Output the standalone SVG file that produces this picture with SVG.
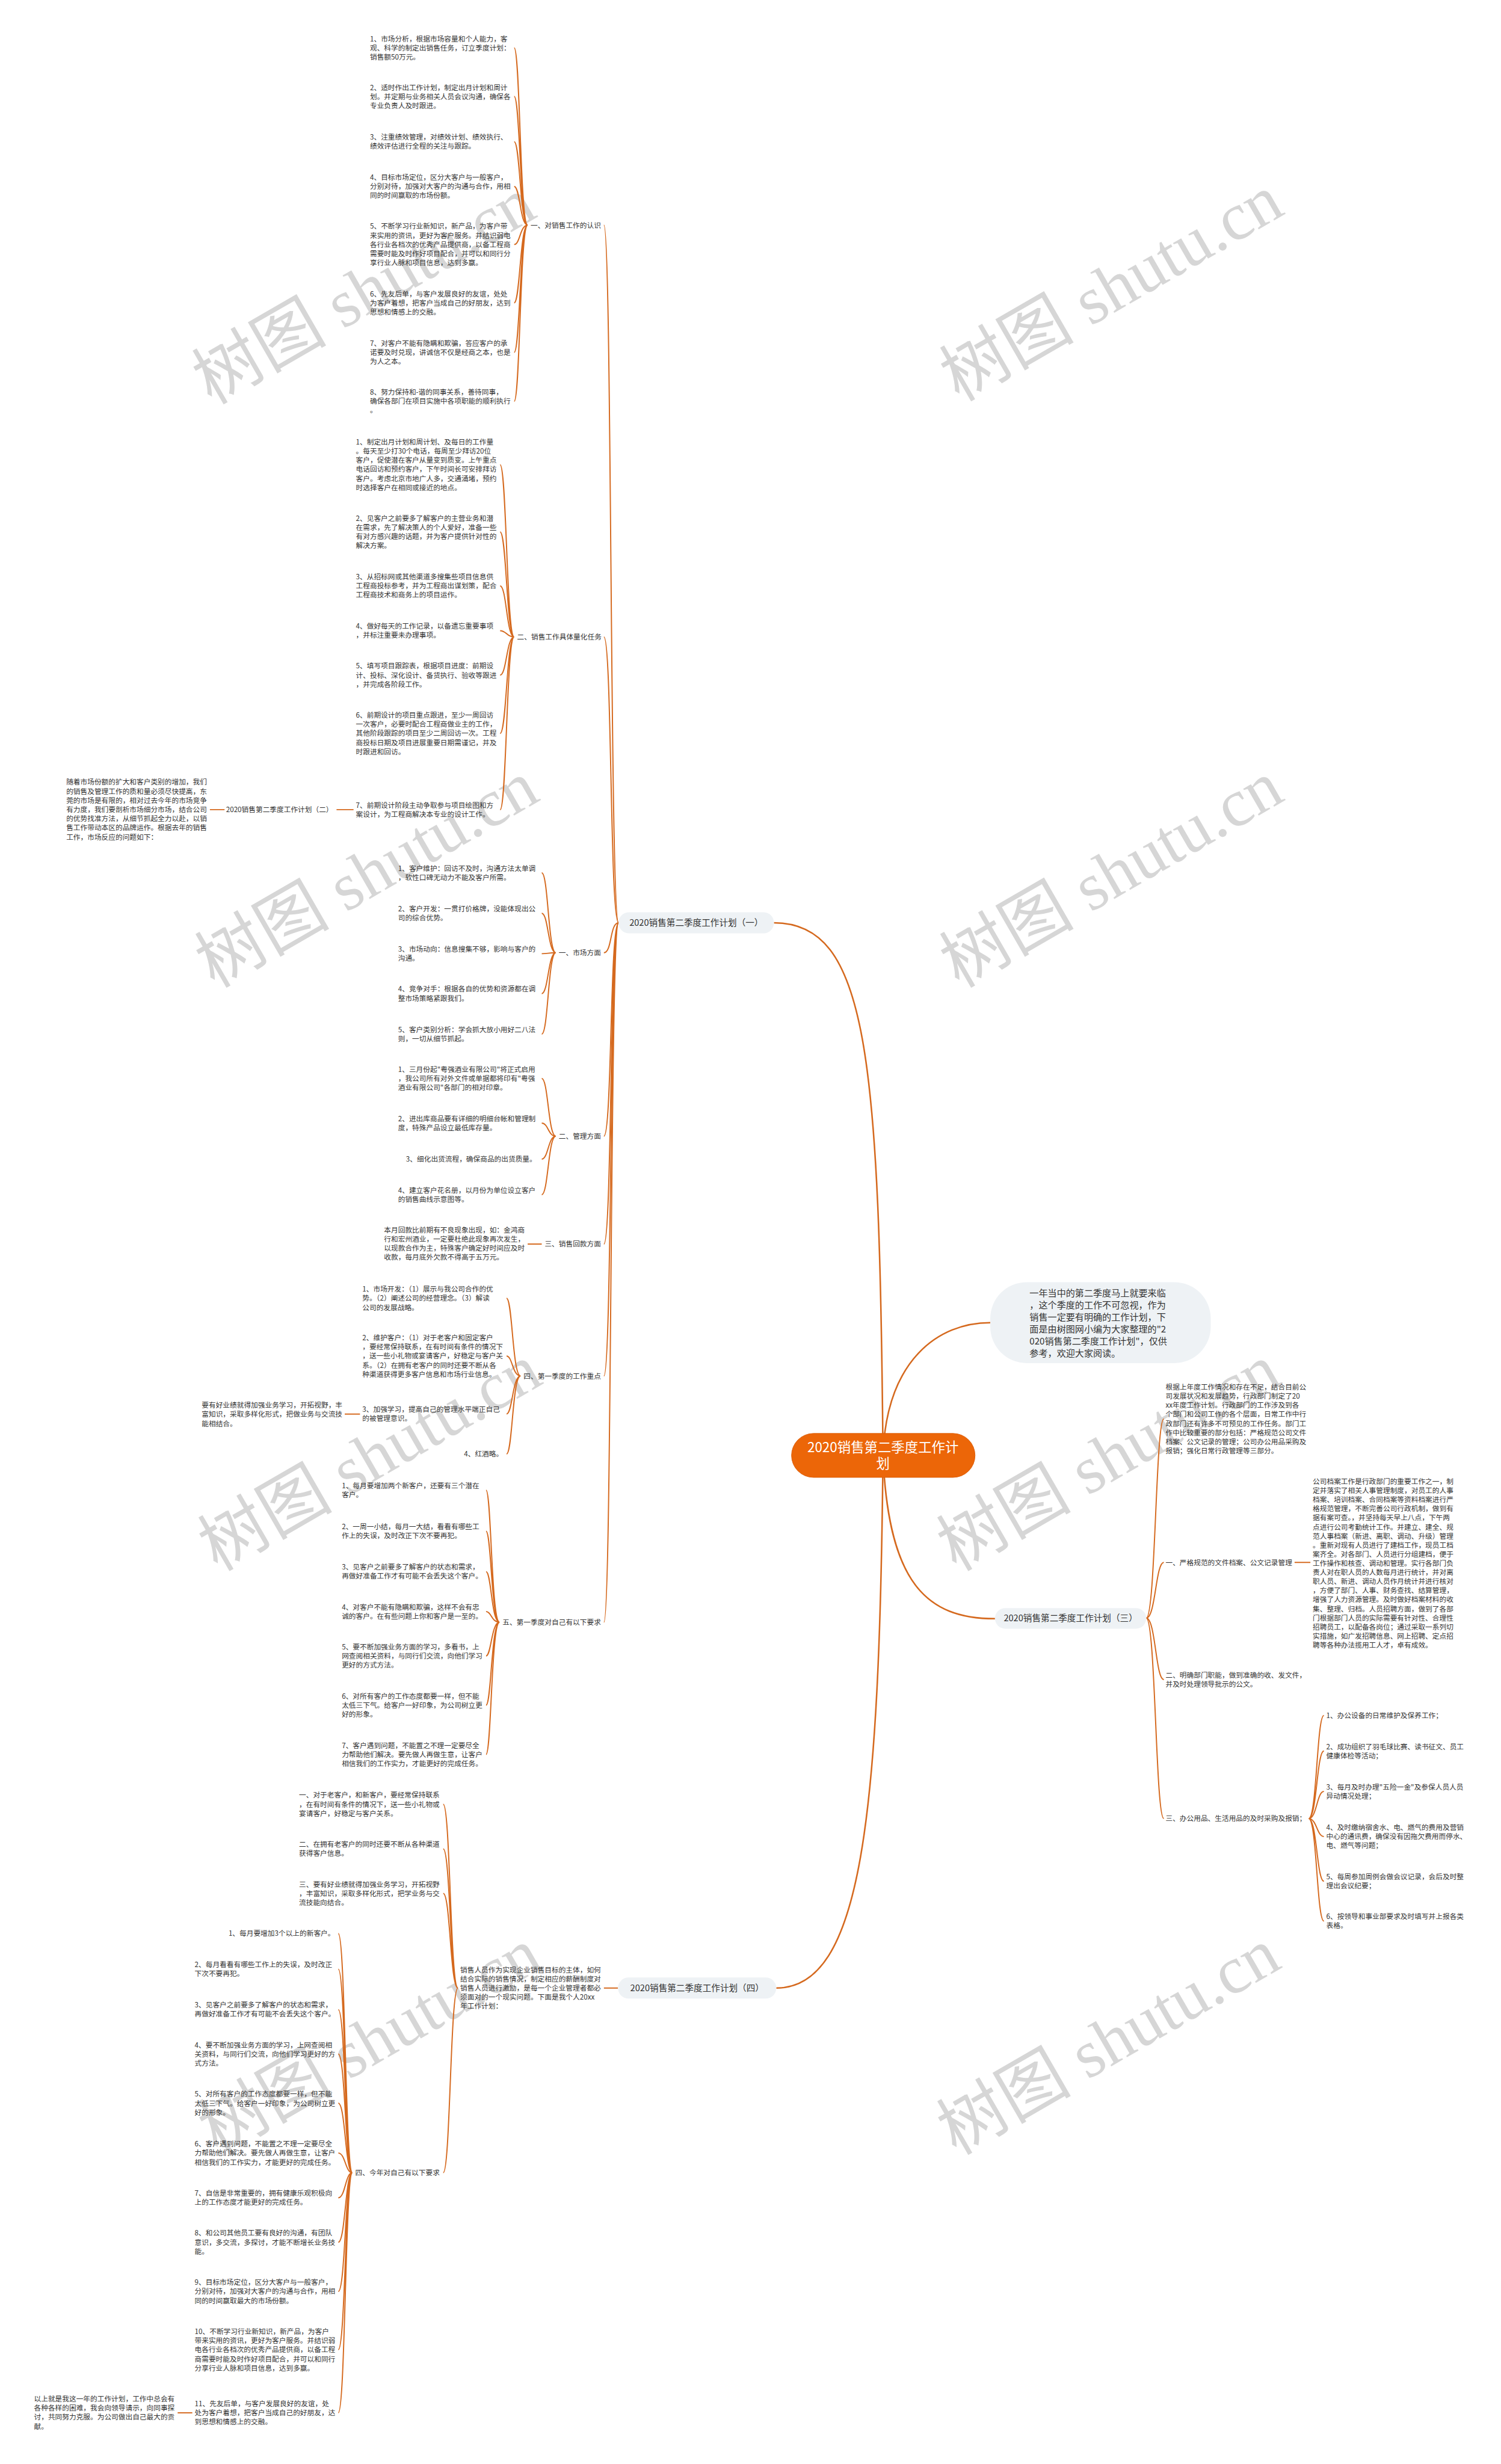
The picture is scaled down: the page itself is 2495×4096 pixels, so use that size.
<svg xmlns="http://www.w3.org/2000/svg" width="2495" height="4096" viewBox="0 0 2495 4096">
<style>
text{font-family:"Noto Sans CJK SC","Liberation Sans",sans-serif;font-size:12px;fill:#333}
.n{font-size:15px;text-anchor:middle}
.e{text-anchor:end}
.c{stroke:#d5691e;stroke-width:2;fill:none}
.m{stroke-width:2.6}
.pill{fill:#eef2f5}
.wm{font-family:"Liberation Serif","Noto Sans CJK SC",serif;font-size:115px;fill:#d6d6d6;text-anchor:middle}
</style>
<rect width="2495" height="4096" fill="#fff"/>
<g transform="scale(0.97458)">
<g id="watermark">
<text class="wm" transform="translate(640,530) rotate(-30)">树图 shutu.cn</text>
<text class="wm" transform="translate(1915,525) rotate(-30)">树图 shutu.cn</text>
<text class="wm" transform="translate(645,1525) rotate(-30)">树图 shutu.cn</text>
<text class="wm" transform="translate(1915,1525) rotate(-30)">树图 shutu.cn</text>
<text class="wm" transform="translate(650,2520) rotate(-30)">树图 shutu.cn</text>
<text class="wm" transform="translate(1910,2520) rotate(-30)">树图 shutu.cn</text>
<text class="wm" transform="translate(650,3516) rotate(-30)">树图 shutu.cn</text>
<text class="wm" transform="translate(1910,3516) rotate(-30)">树图 shutu.cn</text>
</g>
<g id="connectors">
<path class="c m" d="M1506 2482 C1500 1800 1480 1574 1320 1574"/>
<path class="c m" d="M1506 2482 C1500 3100 1470 3391 1324 3391"/>
<path class="c m" d="M1506 2482 C1512 2320 1600 2256 1689 2256"/>
<path class="c m" d="M1506 2482 C1515 2700 1580 2761 1697 2761"/>
<path class="c" d="M1055 1574 C1040 1574 1044 384 1030 384"/>
<path class="c" d="M1055 1574 C1040 1574 1044 1086.5 1030 1086.5"/>
<path class="c" d="M1055 1574 C1040 1574 1044 1625 1030 1625"/>
<path class="c" d="M1055 1574 C1040 1574 1044 1938 1030 1938"/>
<path class="c" d="M1055 1574 C1040 1574 1044 2122 1030 2122"/>
<path class="c" d="M1055 1574 C1040 1574 1044 2347 1030 2347"/>
<path class="c" d="M1055 1574 C1040 1574 1044 2767 1030 2767"/>
<path class="c" d="M900 384 C887 384 887 81.5 877 81.5 M900 384 C887 384 887 164.5 877 164.5 M900 384 C887 384 887 241.75 877 241.75 M900 384 C887 384 887 318 877 318 M900 384 C887 384 887 417 877 417 M900 384 C887 384 887 516.5 877 516.5 M900 384 C887 384 887 601 877 601 M900 384 C887 384 887 684.5 877 684.5"/>
<path class="c" d="M877 1086.5 C864 1086.5 864 792.75 853 792.75 M877 1086.5 C864 1086.5 864 907.25 853 907.25 M877 1086.5 C864 1086.5 864 999.5 853 999.5 M877 1086.5 C864 1086.5 864 1075.75 853 1075.75 M877 1086.5 C864 1086.5 864 1151.5 853 1151.5 M877 1086.5 C864 1086.5 864 1251 853 1251 M877 1086.5 C864 1086.5 864 1381.25 853 1381.25"/>
<path class="c" d="M603 1381 L574 1381 M383 1381 L358 1381"/>
<path class="c" d="M948 1625 C935 1625 935 1488.75 924 1488.75 M948 1625 C935 1625 935 1557.75 924 1557.75 M948 1625 C935 1625 935 1626.75 924 1626.75 M948 1625 C935 1625 935 1694.75 924 1694.75 M948 1625 C935 1625 935 1763.75 924 1763.75"/>
<path class="c" d="M948 1938 C935 1938 935 1839.5 924 1839.5 M948 1938 C935 1938 935 1915.75 924 1915.75 M948 1938 C935 1938 935 1977 924 1977 M948 1938 C935 1938 935 2037.75 924 2037.75"/>
<path class="c" d="M924 2122 L900 2122"/>
<path class="c" d="M888 2347 C874 2347 874 2214.5 864 2214.5 M888 2347 C874 2347 874 2313 864 2313 M888 2347 C874 2347 874 2411.75 864 2411.75 M888 2347 C874 2347 874 2480 864 2480"/>
<path class="c" d="M614 2412 L588 2412"/>
<path class="c" d="M852 2767 C838 2767 838 2541.75 829 2541.75 M852 2767 C838 2767 838 2611.75 829 2611.75 M852 2767 C838 2767 838 2680.75 829 2680.75 M852 2767 C838 2767 838 2748.75 829 2748.75 M852 2767 C838 2767 838 2824.5 829 2824.5 M852 2767 C838 2767 838 2908.5 829 2908.5 M852 2767 C838 2767 838 2992.5 829 2992.5"/>
<path class="c" d="M1955 2760 C1971 2760 1971 2420.25 1985 2420.25 M1955 2760 C1971 2760 1971 2665 1985 2665 M1955 2760 C1971 2760 1971 2864.75 1985 2864.75 M1955 2760 C1971 2760 1971 3102 1985 3102"/>
<path class="c" d="M2208 2665 L2235 2665"/>
<path class="c" d="M2232 3102 C2246 3102 2246 2926 2258 2926 M2232 3102 C2246 3102 2246 2986.75 2258 2986.75 M2232 3102 C2246 3102 2246 3055.75 2258 3055.75 M2232 3102 C2246 3102 2246 3132.5 2258 3132.5 M2232 3102 C2246 3102 2246 3208.75 2258 3208.75 M2232 3102 C2246 3102 2246 3276.75 2258 3276.75"/>
<path class="c" d="M1054 3391 L1030 3391"/>
<path class="c" d="M781 3391 C768 3391 768 3077.5 756 3077.5 M781 3391 C768 3391 768 3153.75 756 3153.75 M781 3391 C768 3391 768 3229.5 756 3229.5 M781 3391 C768 3391 768 3706 756 3706"/>
<path class="c" d="M601 3706 C589 3706 589 3298 577 3298 M601 3706 C589 3706 589 3358.75 577 3358.75 M601 3706 C589 3706 589 3427.75 577 3427.75 M601 3706 C589 3706 589 3503.5 577 3503.5 M601 3706 C589 3706 589 3587.5 577 3587.5 M601 3706 C589 3706 589 3672.5 577 3672.5 M601 3706 C589 3706 589 3748.75 577 3748.75 M601 3706 C589 3706 589 3824.5 577 3824.5 M601 3706 C589 3706 589 3908.5 577 3908.5 M601 3706 C589 3706 589 4008 577 4008 M601 3706 C589 3706 589 4115.5 577 4115.5"/>
<path class="c" d="M328 4115.5 L303 4115.5"/>
</g>
<g id="center">
<rect x="1350" y="2445" width="313" height="75" rx="37.5" fill="#ec6608" stroke="#dc5e08"/>
<text x="1506" y="2477" style="font-size:23px;fill:#fff;text-anchor:middle"><tspan x="1506">2020销售第二季度工作计</tspan><tspan x="1506" dy="28">划</tspan></text>
</g>
<g id="intro">
<rect class="pill" x="1689" y="2187" width="376" height="138" rx="62"/>
<text x="1756" y="2210.7" style="font-size:15.5px"><tspan x="1756">一年当中的第二季度马上就要来临</tspan><tspan x="1756" dy="20.7">，这个季度的工作不可忽视，作为</tspan><tspan x="1756" dy="20.7">销售一定要有明确的工作计划，下</tspan><tspan x="1756" dy="20.7">面是由树图网小编为大家整理的"2</tspan><tspan x="1756" dy="20.7">020销售第二季度工作计划"，仅供</tspan><tspan x="1756" dy="20.7">参考，欢迎大家阅读。</tspan></text>
</g>
<g id="plan1">
<rect class="pill" x="1055" y="1556" width="265" height="36" rx="18"/>
<text class="n" x="1187.5" y="1579.5">2020销售第二季度工作计划（一）</text>
</g>
<g id="plan3">
<rect class="pill" x="1697" y="2743" width="258" height="35" rx="17.5"/>
<text class="n" x="1826" y="2765.5">2020销售第二季度工作计划（三）</text>
</g>
<g id="plan4">
<rect class="pill" x="1054" y="3373" width="270" height="36" rx="18"/>
<text class="n" x="1189" y="3396.5">2020销售第二季度工作计划（四）</text>
</g>
<g id="sec1">
<text x="905" y="388.4">一、对销售工作的认识</text>
<text x="631" y="70.4"><tspan x="631">1、市场分析，根据市场容量和个人能力，客</tspan><tspan x="631" dy="15.5">观、科学的制定出销售任务，订立季度计划：</tspan><tspan x="631" dy="15.5">销售额50万元。</tspan></text>
<text x="631" y="153.4"><tspan x="631">2、适时作出工作计划，制定出月计划和周计</tspan><tspan x="631" dy="15.5">划。并定期与业务相关人员会议沟通，确保各</tspan><tspan x="631" dy="15.5">专业负责人及时跟进。</tspan></text>
<text x="631" y="238.4"><tspan x="631">3、注重绩效管理，对绩效计划、绩效执行、</tspan><tspan x="631" dy="15.5">绩效评估进行全程的关注与跟踪。</tspan></text>
<text x="631" y="306.9"><tspan x="631">4、目标市场定位，区分大客户与一般客户，</tspan><tspan x="631" dy="15.5">分别对待，加强对大客户的沟通与合作，用相</tspan><tspan x="631" dy="15.5">同的时间赢取的市场份额。</tspan></text>
<text x="631" y="390.4"><tspan x="631">5、不断学习行业新知识，新产品，为客户带</tspan><tspan x="631" dy="15.5">来实用的资讯，更好为客户服务。并结识弱电</tspan><tspan x="631" dy="15.5">各行业各档次的优秀产品提供商，以备工程商</tspan><tspan x="631" dy="15.5">需要时能及时作好项目配合，并可以和同行分</tspan><tspan x="631" dy="15.5">享行业人脉和项目信息，达到多赢。</tspan></text>
<text x="631" y="505.4"><tspan x="631">6、先友后单，与客户发展良好的友谊，处处</tspan><tspan x="631" dy="15.5">为客户着想，把客户当成自己的好朋友，达到</tspan><tspan x="631" dy="15.5">思想和情感上的交融。</tspan></text>
<text x="631" y="589.9"><tspan x="631">7、对客户不能有隐瞒和欺骗，答应客户的承</tspan><tspan x="631" dy="15.5">诺要及时兑现，讲诚信不仅是经商之本，也是</tspan><tspan x="631" dy="15.5">为人之本。</tspan></text>
<text x="631" y="673.4"><tspan x="631">8、努力保持和-谐的同事关系，善待同事，</tspan><tspan x="631" dy="15.5">确保各部门在项目实施中各项职能的顺利执行</tspan><tspan x="631" dy="15.5">。</tspan></text>
</g>
<g id="sec2">
<text x="882" y="1090.9">二、销售工作具体量化任务</text>
<text x="607" y="758.4"><tspan x="607">1、制定出月计划和周计划、及每日的工作量</tspan><tspan x="607" dy="15.5">。每天至少打30个电话，每周至少拜访20位</tspan><tspan x="607" dy="15.5">客户，促使潜在客户从量变到质变。上午重点</tspan><tspan x="607" dy="15.5">电话回访和预约客户，下午时间长可安排拜访</tspan><tspan x="607" dy="15.5">客户。考虑北京市地广人多，交通涌堵，预约</tspan><tspan x="607" dy="15.5">时选择客户在相同或接近的地点。</tspan></text>
<text x="607" y="888.4"><tspan x="607">2、见客户之前要多了解客户的主营业务和潜</tspan><tspan x="607" dy="15.5">在需求，先了解决策人的个人爱好，准备一些</tspan><tspan x="607" dy="15.5">有对方感兴趣的话题，并为客户提供针对性的</tspan><tspan x="607" dy="15.5">解决方案。</tspan></text>
<text x="607" y="988.4"><tspan x="607">3、从招标网或其他渠道多搜集些项目信息供</tspan><tspan x="607" dy="15.5">工程商投标参考，并为工程商出谋划策，配合</tspan><tspan x="607" dy="15.5">工程商技术和商务上的项目运作。</tspan></text>
<text x="607" y="1072.4"><tspan x="607">4、做好每天的工作记录，以备遗忘重要事项</tspan><tspan x="607" dy="15.5">，并标注重要未办理事项。</tspan></text>
<text x="607" y="1140.4"><tspan x="607">5、填写项目跟踪表，根据项目进度：前期设</tspan><tspan x="607" dy="15.5">计、投标、深化设计、备货执行、验收等跟进</tspan><tspan x="607" dy="15.5">，并完成各阶段工作。</tspan></text>
<text x="607" y="1224.4"><tspan x="607">6、前期设计的项目重点跟进，至少一周回访</tspan><tspan x="607" dy="15.5">一次客户，必要时配合工程商做业主的工作，</tspan><tspan x="607" dy="15.5">其他阶段跟踪的项目至少二周回访一次。工程</tspan><tspan x="607" dy="15.5">商投标日期及项目进展重要日期需谨记，并及</tspan><tspan x="607" dy="15.5">时跟进和回访。</tspan></text>
<text x="607" y="1377.9"><tspan x="607">7、前期设计阶段主动争取参与项目绘图和方</tspan><tspan x="607" dy="15.5">案设计，为工程商解决本专业的设计工作。</tspan></text>
</g>
<g id="plan2">
<text class="e" x="568" y="1385.4">2020销售第二季度工作计划（二）</text>
<text x="113" y="1338.4"><tspan x="113">随着市场份额的扩大和客户类别的增加，我们</tspan><tspan x="113" dy="15.6">的销售及管理工作的质和量必须尽快提高，东</tspan><tspan x="113" dy="15.6">莞的市场是有限的，相对过去今年的市场竞争</tspan><tspan x="113" dy="15.6">有力度，我们要剖析市场细分市场，结合公司</tspan><tspan x="113" dy="15.6">的优势找准方法，从细节抓起全力以赴，以销</tspan><tspan x="113" dy="15.6">售工作带动本区的品牌运作。根据去年的销售</tspan><tspan x="113" dy="15.6">工作，市场反应的问题如下：</tspan></text>
</g>
<g id="market">
<text x="953" y="1629.4">一、市场方面</text>
<text x="679" y="1485.4"><tspan x="679">1、客户维护：回访不及时，沟通方法太单调</tspan><tspan x="679" dy="15.5">，软性口碑无动力不能及客户所需。</tspan></text>
<text x="679" y="1554.4"><tspan x="679">2、客户开发：一贯打价格牌，没能体现出公</tspan><tspan x="679" dy="15.5">司的综合优势。</tspan></text>
<text x="679" y="1623.4"><tspan x="679">3、市场动向：信息搜集不够，影响与客户的</tspan><tspan x="679" dy="15.5">沟通。</tspan></text>
<text x="679" y="1691.4"><tspan x="679">4、竞争对手：根据各自的优势和资源都在调</tspan><tspan x="679" dy="15.5">整市场策略紧跟我们。</tspan></text>
<text x="679" y="1760.4"><tspan x="679">5、客户类别分析：学会抓大放小用好二八法</tspan><tspan x="679" dy="15.5">则，一切从细节抓起。</tspan></text>
</g>
<g id="manage">
<text x="953" y="1942.4">二、管理方面</text>
<text x="679" y="1828.4"><tspan x="679">1、三月份起"粤强酒业有限公司"将正式启用</tspan><tspan x="679" dy="15.5">，我公司所有对外文件或单据都将印有"粤强</tspan><tspan x="679" dy="15.5">酒业有限公司"各部门的相对印章。</tspan></text>
<text x="679" y="1912.4"><tspan x="679">2、进出库商品要有详细的明细台帐和管理制</tspan><tspan x="679" dy="15.5">度，特殊产品设立最低库存量。</tspan></text>
<text class="e" x="915" y="1981.4">3、细化出货流程，确保商品的出货质量。</text>
<text x="679" y="2034.4"><tspan x="679">4、建立客户花名册，以月份为单位设立客户</tspan><tspan x="679" dy="15.5">的销售曲线示意图等。</tspan></text>
</g>
<g id="payment">
<text x="929" y="2126.4">三、销售回款方面</text>
<text x="655" y="2102.4"><tspan x="655">本月回款比前期有不良现象出现，如：金鸿商</tspan><tspan x="655" dy="15.5">行和宏州酒业，一定要杜绝此现象再次发生，</tspan><tspan x="655" dy="15.5">以现款合作为主，特殊客户确定好时间应及时</tspan><tspan x="655" dy="15.5">收款，每月底外欠款不得高于五万元。</tspan></text>
</g>
<g id="focus">
<text x="893" y="2351.4">四、第一季度的工作重点</text>
<text x="618" y="2203.4"><tspan x="618">1、市场开发：（1）展示与我公司合作的优</tspan><tspan x="618" dy="15.5">势。（2）阐述公司的经营理念。（3）解读</tspan><tspan x="618" dy="15.5">公司的发展战略。</tspan></text>
<text x="618" y="2286.4"><tspan x="618">2、维护客户：（1）对于老客户和固定客户</tspan><tspan x="618" dy="15.5">，要经常保持联系，在有时间有条件的情况下</tspan><tspan x="618" dy="15.5">，送一些小礼物或宴请客户，好稳定与客户关</tspan><tspan x="618" dy="15.5">系。（2）在拥有老客户的同时还要不断从各</tspan><tspan x="618" dy="15.5">种渠道获得更多客户信息和市场行业信息。</tspan></text>
<text x="618" y="2408.4"><tspan x="618">3、加强学习，提高自己的管理水平端正自己</tspan><tspan x="618" dy="15.5">的被管理意识。</tspan></text>
<text class="e" x="858" y="2484.4">4、红酒略。</text>
<text x="344" y="2401.4"><tspan x="344">要有好业绩就得加强业务学习，开拓视野，丰</tspan><tspan x="344" dy="15.5">富知识，采取多样化形式，把做业务与交流技</tspan><tspan x="344" dy="15.5">能相结合。</tspan></text>
</g>
<g id="self1">
<text x="857" y="2771.4">五、第一季度对自己有以下要求</text>
<text x="583" y="2538.4"><tspan x="583">1、每月要增加两个新客户，还要有三个潜在</tspan><tspan x="583" dy="15.5">客户。</tspan></text>
<text x="583" y="2608.4"><tspan x="583">2、一周一小结，每月一大结，看看有哪些工</tspan><tspan x="583" dy="15.5">作上的失误，及时改正下次不要再犯。</tspan></text>
<text x="583" y="2677.4"><tspan x="583">3、见客户之前要多了解客户的状态和需求，</tspan><tspan x="583" dy="15.5">再做好准备工作才有可能不会丢失这个客户。</tspan></text>
<text x="583" y="2745.4"><tspan x="583">4、对客户不能有隐瞒和欺骗，这样不会有忠</tspan><tspan x="583" dy="15.5">诚的客户。在有些问题上你和客户是一至的。</tspan></text>
<text x="583" y="2813.4"><tspan x="583">5、要不断加强业务方面的学习，多看书，上</tspan><tspan x="583" dy="15.5">网查阅相关资料，与同行们交流，向他们学习</tspan><tspan x="583" dy="15.5">更好的方式方法。</tspan></text>
<text x="583" y="2897.4"><tspan x="583">6、对所有客户的工作态度都要一样，但不能</tspan><tspan x="583" dy="15.5">太低三下气。给客户一好印象，为公司树立更</tspan><tspan x="583" dy="15.5">好的形象。</tspan></text>
<text x="583" y="2981.4"><tspan x="583">7、客户遇到问题，不能置之不理一定要尽全</tspan><tspan x="583" dy="15.5">力帮助他们解决。要先做人再做生意，让客户</tspan><tspan x="583" dy="15.5">相信我们的工作实力，才能更好的完成任务。</tspan></text>
</g>
<g id="sec3">
<text x="1988" y="2370.4"><tspan x="1988">根据上年度工作情况和存在不足，结合目前公</tspan><tspan x="1988" dy="15.5">司发展状况和发展趋势，行政部门制定了20</tspan><tspan x="1988" dy="15.5">xx年度工作计划。行政部门的工作涉及到各</tspan><tspan x="1988" dy="15.5">个部门和公司工作的各个层面，日常工作中行</tspan><tspan x="1988" dy="15.5">政部门还有许多不可预见的工作任务。部门工</tspan><tspan x="1988" dy="15.5">作中比较重要的部分包括：严格规范公司文件</tspan><tspan x="1988" dy="15.5">档案、公文记录的管理；公司办公用品采购及</tspan><tspan x="1988" dy="15.5">报销；强化日常行政管理等三部分。</tspan></text>
<text x="1988" y="2669.4">一、严格规范的文件档案、公文记录管理</text>
<text x="2239" y="2531.4"><tspan x="2239">公司档案工作是行政部门的重要工作之一，制</tspan><tspan x="2239" dy="15.5">定并落实了相关人事管理制度，对员工的人事</tspan><tspan x="2239" dy="15.5">档案、培训档案、合同档案等资料档案进行严</tspan><tspan x="2239" dy="15.5">格规范管理，不断完善公司行政机制，做到有</tspan><tspan x="2239" dy="15.5">据有案可查。，并坚持每天早上八点，下午两</tspan><tspan x="2239" dy="15.5">点进行公司考勤统计工作。并建立、建全、规</tspan><tspan x="2239" dy="15.5">范人事档案（新进、离职、调动、升级）管理</tspan><tspan x="2239" dy="15.5">。重新对现有人员进行了建档工作，现员工档</tspan><tspan x="2239" dy="15.5">案齐全。对各部门、人员进行分组建档，便于</tspan><tspan x="2239" dy="15.5">工作操作和核查、调动和管理。实行各部门负</tspan><tspan x="2239" dy="15.5">责人对在职人员的人数每月进行统计，并对离</tspan><tspan x="2239" dy="15.5">职人员、新进、调动人员作月统计并进行核对</tspan><tspan x="2239" dy="15.5">，方便了部门、人事、财务查找、结算管理，</tspan><tspan x="2239" dy="15.5">增强了人力资源管理。及时做好档案材料的收</tspan><tspan x="2239" dy="15.5">集、整理、归档。人员招聘方面，做到了各部</tspan><tspan x="2239" dy="15.5">门根据部门人员的实际需要有针对性、合理性</tspan><tspan x="2239" dy="15.5">招聘员工，以配备各岗位；通过采取一系列切</tspan><tspan x="2239" dy="15.5">实措施，如广发招聘信息、网上招聘、定点招</tspan><tspan x="2239" dy="15.5">聘等各种办法揽用工人才，卓有成效。</tspan></text>
<text x="1988" y="2861.4"><tspan x="1988">二、明确部门职能，做到准确的收、发文件，</tspan><tspan x="1988" dy="15.5">并及时处理领导批示的公文。</tspan></text>
<text x="1988" y="3106.4">三、办公用品、生活用品的及时采购及报销；</text>
<text x="2262" y="2930.4">1、办公设备的日常维护及保养工作；</text>
<text x="2262" y="2983.4"><tspan x="2262">2、成功组织了羽毛球比赛、读书征文、员工</tspan><tspan x="2262" dy="15.5">健康体检等活动；</tspan></text>
<text x="2262" y="3052.4"><tspan x="2262">3、每月及时办理"五险一金"及参保人员人员</tspan><tspan x="2262" dy="15.5">异动情况处理；</tspan></text>
<text x="2262" y="3121.4"><tspan x="2262">4、及时缴纳宿舍水、电、燃气的费用及营销</tspan><tspan x="2262" dy="15.5">中心的通讯费，确保没有因拖欠费用而停水、</tspan><tspan x="2262" dy="15.5">电、燃气等问题；</tspan></text>
<text x="2262" y="3205.4"><tspan x="2262">5、每周参加周例会做会议记录，会后及时整</tspan><tspan x="2262" dy="15.5">理出会议纪要；</tspan></text>
<text x="2262" y="3273.4"><tspan x="2262">6、按领导和事业部要求及时填写并上报各类</tspan><tspan x="2262" dy="15.5">表格。</tspan></text>
</g>
<g id="sec4">
<text x="785" y="3364.4"><tspan x="785">销售人员作为实现企业销售目标的主体，如何</tspan><tspan x="785" dy="15.5">结合实际的销售情况，制定相应的薪酬制度对</tspan><tspan x="785" dy="15.5">销售人员进行激励，是每一个企业管理者都必</tspan><tspan x="785" dy="15.5">须面对的一个现实问题。下面是我个人20xx</tspan><tspan x="785" dy="15.5">年工作计划：</tspan></text>
<text x="510" y="3066.4"><tspan x="510">一、对于老客户，和新客户，要经常保持联系</tspan><tspan x="510" dy="15.5">，在有时间有条件的情况下，送一些小礼物或</tspan><tspan x="510" dy="15.5">宴请客户，好稳定与客户关系。</tspan></text>
<text x="510" y="3150.4"><tspan x="510">二、在拥有老客户的同时还要不断从各种渠道</tspan><tspan x="510" dy="15.5">获得客户信息。</tspan></text>
<text x="510" y="3218.4"><tspan x="510">三、要有好业绩就得加强业务学习，开拓视野</tspan><tspan x="510" dy="15.5">，丰富知识，采取多样化形式，把学业务与交</tspan><tspan x="510" dy="15.5">流技能向结合。</tspan></text>
<text x="606" y="3710.4">四、今年对自己有以下要求</text>
<text class="e" x="571" y="3302.4">1、每月要增加3个以上的新客户。</text>
<text x="332" y="3355.4"><tspan x="332">2、每月看看有哪些工作上的失误，及时改正</tspan><tspan x="332" dy="15.5">下次不要再犯。</tspan></text>
<text x="332" y="3424.4"><tspan x="332">3、见客户之前要多了解客户的状态和需求，</tspan><tspan x="332" dy="15.5">再做好准备工作才有可能不会丢失这个客户。</tspan></text>
<text x="332" y="3492.4"><tspan x="332">4、要不断加强业务方面的学习，上网查阅相</tspan><tspan x="332" dy="15.5">关资料，与同行们交流，向他们学习更好的方</tspan><tspan x="332" dy="15.5">式方法。</tspan></text>
<text x="332" y="3576.4"><tspan x="332">5、对所有客户的工作态度都要一样，但不能</tspan><tspan x="332" dy="15.5">太低三下气。给客户一好印象，为公司树立更</tspan><tspan x="332" dy="15.5">好的形象。</tspan></text>
<text x="332" y="3661.4"><tspan x="332">6、客户遇到问题，不能置之不理一定要尽全</tspan><tspan x="332" dy="15.5">力帮助他们解决。要先做人再做生意，让客户</tspan><tspan x="332" dy="15.5">相信我们的工作实力，才能更好的完成任务。</tspan></text>
<text x="332" y="3745.4"><tspan x="332">7、自信是非常重要的，拥有健康乐观积极向</tspan><tspan x="332" dy="15.5">上的工作态度才能更好的完成任务。</tspan></text>
<text x="332" y="3813.4"><tspan x="332">8、和公司其他员工要有良好的沟通，有团队</tspan><tspan x="332" dy="15.5">意识，多交流，多探讨，才能不断增长业务技</tspan><tspan x="332" dy="15.5">能。</tspan></text>
<text x="332" y="3897.4"><tspan x="332">9、目标市场定位，区分大客户与一般客户，</tspan><tspan x="332" dy="15.5">分别对待，加强对大客户的沟通与合作，用相</tspan><tspan x="332" dy="15.5">同的时间赢取最大的市场份额。</tspan></text>
<text x="332" y="3981.4"><tspan x="332">10、不断学习行业新知识，新产品，为客户</tspan><tspan x="332" dy="15.5">带来实用的资讯，更好为客户服务。并结识弱</tspan><tspan x="332" dy="15.5">电各行业各档次的优秀产品提供商，以备工程</tspan><tspan x="332" dy="15.5">商需要时能及时作好项目配合，并可以和同行</tspan><tspan x="332" dy="15.5">分享行业人脉和项目信息，达到多赢。</tspan></text>
<text x="332" y="4104.4"><tspan x="332">11、先友后单，与客户发展良好的友谊，处</tspan><tspan x="332" dy="15.5">处为客户着想，把客户当成自己的好朋友，达</tspan><tspan x="332" dy="15.5">到思想和情感上的交融。</tspan></text>
<text x="58" y="4096.4"><tspan x="58">以上就是我这一年的工作计划，工作中总会有</tspan><tspan x="58" dy="15.5">各种各样的困难，我会向领导请示，向同事探</tspan><tspan x="58" dy="15.5">讨，共同努力克服。为公司做出自己最大的贡</tspan><tspan x="58" dy="15.5">献。</tspan></text>
</g>
</g>
</svg>
